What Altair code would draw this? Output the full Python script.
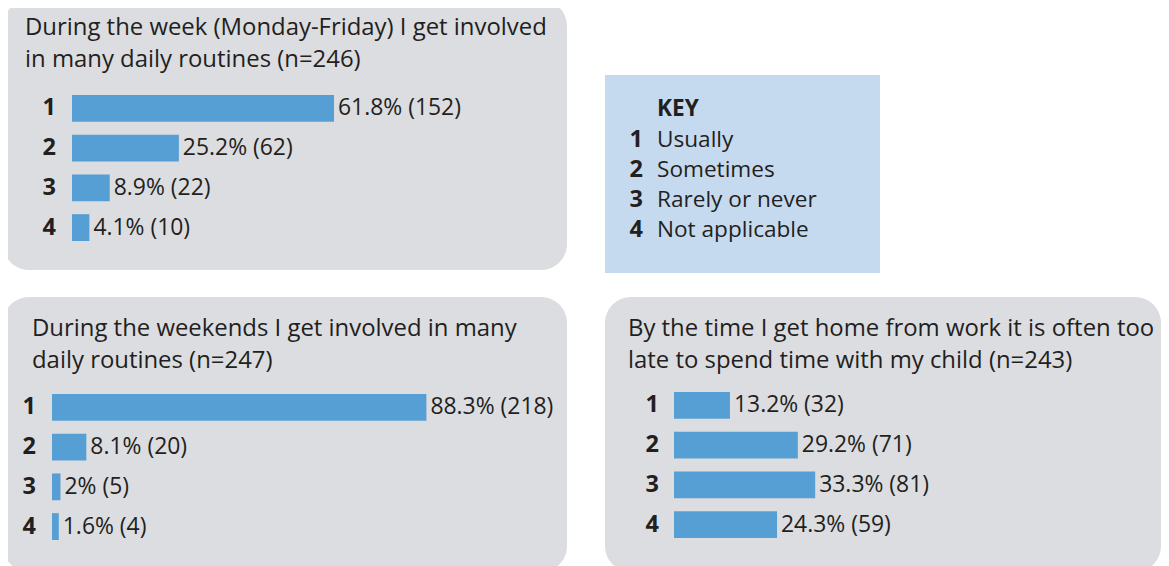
import altair as alt
import pandas as pd

# ---------------- data ----------------
codes = ["1", "2", "3", "4"]
key_labels = ["Usually", "Sometimes", "Rarely or never", "Not applicable"]

title1 = ["During the week (Monday-Friday) I get involved", "in many daily routines (n=246)"]
pct1 = [61.8, 25.2, 8.9, 4.1]
n1 = [152, 62, 22, 10]

title2 = ["During the weekends I get involved in many", "daily routines (n=247)"]
pct2 = [88.3, 8.1, 2, 1.6]
n2 = [218, 20, 5, 4]

title3 = ["By the time I get home from work it is often too", "late to spend time with my child (n=243)"]
pct3 = [13.2, 29.2, 33.3, 24.3]
n3 = [32, 71, 81, 59]

# ---------------- style ----------------
FONT = "Open Sans"
GRAY = "#dcdde0"
BLUE = "#569fd4"
KEYBLUE = "#c6daef"
INK = "#231f20"
PX_PER_PCT = 4.24


def panel(title, pct, n, w, h, bar_x0, bar_y0, bar_y1, label_x, title_x, title_y):
    df = pd.DataFrame({"code": codes, "pct": pct, "n": n})
    df["label"] = [f"{p:g}% ({c})" for p, c in zip(pct, n)]
    xs = alt.Scale(domain=[0, 100], range=[bar_x0, bar_x0 + 100 * PX_PER_PCT])
    ys = alt.Scale(domain=codes, range=[bar_y0, bar_y1], paddingInner=0.325, paddingOuter=0)
    base = alt.Chart(df)
    bars = base.mark_bar(color=BLUE, cornerRadius=0).encode(
        x=alt.X("pct:Q", scale=xs, axis=None),
        y=alt.Y("code:N", scale=ys, axis=None),
    )
    vals = base.mark_text(
        align="left", baseline="middle", dx=4, font=FONT, fontSize=22.9, color=INK
    ).encode(
        x=alt.X("pct:Q", scale=xs, axis=None),
        y=alt.Y("code:N", scale=ys, axis=None),
        text="label:N",
    )
    cats = base.mark_text(
        align="right", baseline="middle", font=FONT, fontSize=23.5, fontWeight="bold", color=INK
    ).encode(
        x=alt.value(label_x),
        y=alt.Y("code:N", scale=ys, axis=None),
        text="code:N",
    )
    ttl = alt.Chart(alt.Data(values=[{"t": 0}])).mark_text(
        align="left", baseline="alphabetic", font=FONT, fontSize=23.9, lineHeight=32, color=INK
    ).encode(
        x=alt.value(title_x),
        y=alt.value(title_y),
        text=alt.value(title),
    )
    return alt.layer(bars, vals, cats, ttl).properties(
        width=w,
        height=h,
        view=alt.ViewBackground(fill=GRAY, cornerRadius=26, strokeWidth=0),
    )


p1 = panel(title1, pct1, n1, 564, 270, 69, 95, 241, 53, 22, 35)
p2 = panel(title2, pct2, n2, 564, 275, 49, 97, 243, 33, 29, 39)
p3 = panel(title3, pct3, n3, 556, 275, 69, 95, 241, 54, 23, 39)

# key
kdf = pd.DataFrame({"code": codes, "label": key_labels})
kys = alt.Scale(type="point", domain=codes, range=[64.5, 155], padding=0)
kbase = alt.Chart(kdf)
k_codes = kbase.mark_text(
    align="right", baseline="middle", font=FONT, fontSize=23.5, fontWeight="bold", color=INK
).encode(x=alt.value(38), y=alt.Y("code:N", scale=kys, axis=None), text="code:N")
k_labels = kbase.mark_text(
    align="left", baseline="middle", font=FONT, fontSize=22.6, color=INK
).encode(x=alt.value(52), y=alt.Y("code:N", scale=kys, axis=None), text="label:N")
k_head = alt.Chart(alt.Data(values=[{"t": 0}])).mark_text(
    align="left", baseline="middle", font=FONT, fontSize=22.6, fontWeight="bold", color=INK
).encode(x=alt.value(52), y=alt.value(34), text=alt.value("KEY"))
key = alt.layer(k_codes, k_labels, k_head).properties(
    width=275, height=198,
    view=alt.ViewBackground(fill=KEYBLUE, cornerRadius=0, strokeWidth=0),
)

spacer = alt.Chart(alt.Data(values=[{"t": 0}])).mark_text().encode(
    text=alt.value("")
).properties(width=275, height=75, view=alt.ViewBackground(strokeWidth=0))

keycol = alt.vconcat(spacer, key, spacing=0)
row1 = alt.hconcat(p1, keycol, spacing=38)
row2 = alt.hconcat(p2, p3, spacing=38)

chart = alt.vconcat(row1, row2, spacing=24).properties(
    padding={"left": -5, "top": -8, "right": 0, "bottom": 0},
    background="white",
).configure_view(strokeWidth=0)

chart.save("out.html", embed_options={"renderer": "svg", "actions": False})
